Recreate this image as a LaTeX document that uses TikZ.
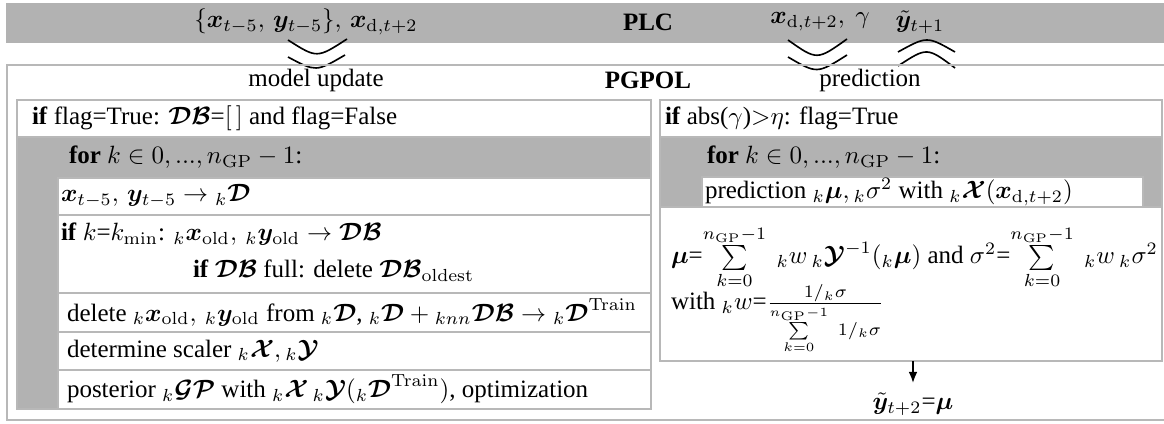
\documentclass[tikz,border=0pt]{standalone}
\usepackage{amsmath}
\usepackage{bm}
\usepackage[no-math]{fontspec}
\setmainfont{Liberation Serif}
\usetikzlibrary{arrows.meta}

\definecolor{bargray}{gray}{0.70}
\definecolor{framegray}{gray}{0.72}

% bold calligraphic shorthands
\newcommand{\cD}{\bm{\mathcal{D}}}
\newcommand{\cDB}{\bm{\mathcal{D}}\bm{\mathcal{B}}}
\newcommand{\cX}{\bm{\mathcal{X}}}
\newcommand{\cY}{\bm{\mathcal{Y}}}
\newcommand{\lk}{{}_{k}}
\newcommand{\nGP}{n_{\mathrm{GP}}}

\begin{document}
\begin{tikzpicture}[x=0.40pt, y=-0.40pt, thick,
		frame/.style={draw=framegray, line width=0.85pt},
		txt/.style={anchor=west, inner sep=0pt},
		wave/.style={line width=0.65pt}]
		
		\useasboundingbox (0,0) rectangle (1164,424);
		
		% 1. PLC bar (top - gray)
		\fill[bargray] (6,3) rectangle (1164,43);
		\node (plcin) at (306,22) {$\{\bm{x}_{t-5},\,\bm{y}_{t-5}\},\,\bm{x}_{\mathrm{d},t+2}$};
		\node (plc) at (648,22) {\textbf{PLC}};
		\node (plcgam) at (820,22) {$\bm{x}_{\mathrm{d},t+2},\ \gamma$};
		\node (plcout) at (920,22) {$\tilde{\bm{y}}_{t+1}$};
		
		% 2. Waves between PLC and PGPOL
		\draw[wave] (288,40) .. controls (317,58.5) .. (347,39);
		\draw[wave] (288,57) .. controls (316,72) .. (345,55);
		\draw[wave] (788,40) .. controls (817,60.5) .. (847,39);
		\draw[wave] (788,57) .. controls (817,74) .. (847,55);
		\draw[wave] (898,52) .. controls (927,36) .. (955,52);
		\draw[wave] (898,66) .. controls (927,47) .. (955,68);
		
		% 3. PGPOL frame (open to the right)
		\draw[frame] (1164,65) -- (7,65) -- (7,420) -- (1164,420);
		\node (upd) at (316,80) {model update};
		\node (pgpol) at (648,80) {\textbf{PGPOL}};
		\node (pred) at (870,80) {prediction};
		
		% 4. Model update column (left)
		\draw[frame, fill=white] (17,100) rectangle (651,137);
		\draw[frame, fill=bargray] (17,137) rectangle (651,409);
		\draw[frame, fill=white] (58,178) rectangle (651,215);
		\draw[frame, fill=white] (58,215) rectangle (651,293);
		\draw[frame, fill=white] (58,293) rectangle (651,332);
		\draw[frame, fill=white] (58,332) rectangle (651,370);
		\draw[frame, fill=white] (58,370) rectangle (651,409);
		
		\node[txt] (flagL) at (31,118) {\textbf{if} flag=True: $\cDB$=$[\,]$ and flag=False};
		\node[txt] (forL) at (68,157) {\textbf{for} $k\in 0,...,\nGP-1$:};
		\node[txt] (rowx) at (60,196) {$\bm{x}_{t-5},\,\bm{y}_{t-5}\rightarrow \lk\cD$};
		\node[txt] (rowk) at (60,234) {\textbf{if} $k$=$k_{\min}$: $\lk\bm{x}_{\mathrm{old}},\,\lk\bm{y}_{\mathrm{old}}\rightarrow\cDB$};
		\node[txt] (rowkb) at (192,271) {\textbf{if} $\cDB$ full: delete $\cDB_{\mathrm{oldest}}$};
		\node[txt] (rowdel) at (66,312) {delete $\lk\bm{x}_{\mathrm{old}},\,\lk\bm{y}_{\mathrm{old}}$ from $\lk\cD$, $\lk\cD+{}_{knn}\cDB\rightarrow\lk\cD^{\mathrm{Train}}$};
		\node[txt] (rowscal) at (66,351) {determine scaler $\lk\cX,\lk\cY$};
		\node[txt] (rowpost) at (66,389) {posterior $\lk\bm{\mathcal{G}}\bm{\mathcal{P}}$ with $\lk\cX\,\lk\cY(\lk\cD^{\mathrm{Train}})$, optimization};
		
		% 5. Prediction column (right)
		\draw[frame, fill=white] (660,100) rectangle (1162,137);
		\draw[frame, fill=bargray] (660,137) rectangle (1162,207);
		\draw[frame, fill=white] (702,177) rectangle (1143,207);
		\draw[frame, fill=white] (660,207) rectangle (1162,361);
		
		\node[txt] (flagR) at (664,118) {\textbf{if} abs($\gamma$)${>}\eta$: flag=True};
		\node[txt] (forR) at (706,157) {\textbf{for} $k\in 0,...,\nGP-1$:};
		\node[txt] (rowpred) at (704,192) {prediction $\lk\bm{\mu},\lk\sigma^2$ with $\lk\cX(\bm{x}_{\mathrm{d},t+2})$};
		\node[txt, anchor=base west] (rowmu) at (670,264) {$\bm{\mu}$=$\sum\limits_{k=0}^{\nGP-1}\ \lk w\,\lk\cY^{-1}(\lk\bm{\mu})$ and $\sigma^2$=$\sum\limits_{k=0}^{\nGP-1}\ \lk w\,\lk\sigma^2$};
		\node[txt, anchor=base west] (rowwith) at (670,310) {with $\lk w$=$\frac{1/\lk\sigma}{\sum\limits_{k=0}^{\nGP-1}\ 1/\lk\sigma}$};
		
		% 6. Output
		\coordinate (mubot) at (913,361);
		\node (yout) at (913,404) {$\tilde{\bm{y}}_{t+2}$=$\bm{\mu}$};
		\draw[-{Latex[length=4.5pt,width=3.5pt]}] (mubot) -- (yout);
		
	\end{tikzpicture}
\end{document}
